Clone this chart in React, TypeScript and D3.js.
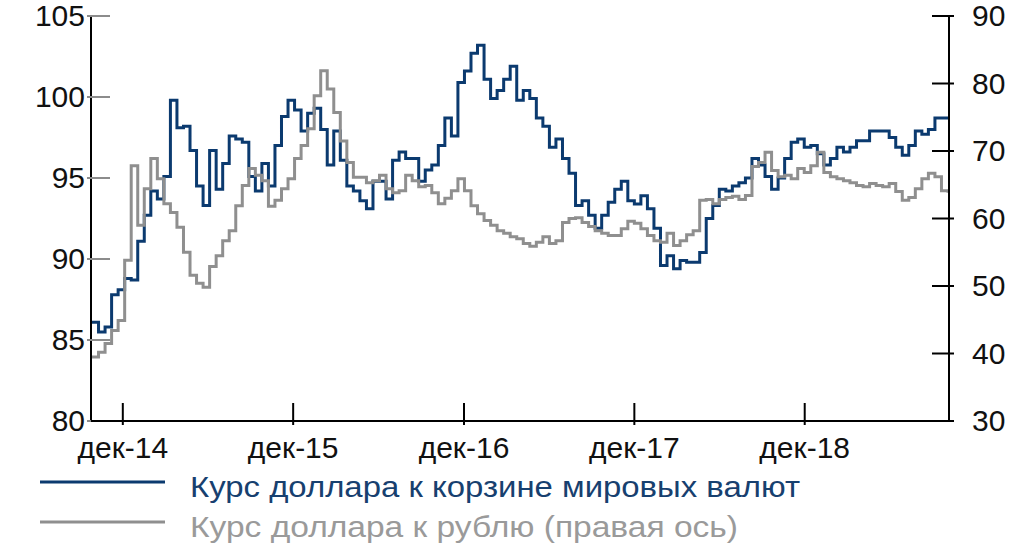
import * as d3 from "d3";

// Fortnightly observations, first one on 26 Sep 2014
const START = new Date(2014, 8, 26);
const STEP_DAYS = 14;

// Dollar index (left axis)
const dxy = [
  86.1, 85.5, 85.8, 87.8, 88.1, 88.8, 88.7, 91.1, 92.7, 94.2, 93.7, 95.1, 99.8, 98.1,
  98.2, 96.7, 94.5, 93.3, 96.7, 94.3, 95.9, 97.6, 97.4, 97.2, 95.1, 94.2, 95.9, 94.5,
  97.0, 98.8, 99.8, 99.2, 97.9, 99.0, 99.3, 98.0, 95.8, 97.9, 96.1, 94.5, 94.2, 93.6,
  93.1, 94.8, 94.8, 93.7, 96.1, 96.6, 96.2, 96.2, 94.8, 95.5, 95.8, 97.0, 98.7, 97.6,
  100.9, 101.6, 102.7, 103.2, 101.1, 99.9, 100.4, 101.1, 101.9, 99.8, 100.4, 99.9, 98.7, 98.2,
  96.9, 97.4, 96.2, 95.3, 93.3, 93.6, 92.7, 91.9, 92.7, 93.5, 94.3, 94.8, 93.6, 93.4,
  93.9, 93.1, 91.9, 89.6, 90.2, 89.4, 89.9, 89.8, 89.8, 90.4, 92.5, 93.3, 94.3, 94.2,
  94.5, 94.7, 95.0, 96.2, 95.8, 95.1, 94.3, 95.0, 96.2, 97.2, 97.4, 96.9, 97.0, 96.5,
  95.8, 96.2, 96.9, 96.6, 96.9, 97.3, 97.3, 97.9, 97.9, 97.9, 97.5, 96.9, 96.4, 97.0,
  97.9, 97.7, 98.0, 98.7, 98.7, 98.7,
];

// USD/RUB (right axis)
const usdRub = [
  39.5, 40.2, 41.5, 43.4, 44.9, 53.8, 67.8, 59.0, 64.4, 68.9, 65.9, 62.2, 60.9, 58.7,
  55.0, 51.6, 50.4, 49.8, 52.9, 54.5, 56.7, 58.2, 61.9, 64.9, 67.4, 66.4, 65.6, 61.8,
  62.7, 64.4, 65.9, 68.9, 70.8, 73.3, 78.2, 81.9, 79.2, 75.7, 71.5, 68.3, 66.1, 66.1,
  65.3, 65.6, 66.4, 64.4, 63.8, 64.1, 66.4, 65.6, 64.7, 64.9, 63.8, 62.2, 63.0, 64.1,
  65.9, 64.1, 61.9, 60.7, 59.7, 59.0, 58.2, 57.8, 57.3, 57.0, 56.3, 55.9, 56.5, 57.3,
  56.3, 56.7, 59.4, 60.0, 60.1, 59.4, 58.8, 58.2, 57.8, 57.5, 57.5, 58.5, 59.6, 59.3,
  58.5, 57.5, 56.7, 56.5, 57.8, 56.0, 56.7, 57.6, 58.2, 62.7, 62.8, 62.2, 62.8, 63.1,
  63.3, 62.8, 63.4, 67.7, 68.3, 69.8, 67.1, 66.2, 66.4, 65.9, 67.4, 66.8, 67.8, 69.8,
  66.8, 66.2, 65.9, 65.6, 65.3, 64.9, 64.7, 65.2, 64.9, 64.7, 65.2, 64.0, 62.7, 63.1,
  64.4, 65.9, 66.7, 66.2, 64.1, 63.8,
];

const leftTicks = [80, 85, 90, 95, 100, 105];
const rightTicks = [30, 40, 50, 60, 70, 80, 90];
const xTicks = [
  new Date(2014, 11, 1),
  new Date(2015, 11, 1),
  new Date(2016, 11, 1),
  new Date(2017, 11, 1),
  new Date(2018, 11, 1),
];

const legendItems = [
  { label: "Курс доллара к корзине мировых валют", color: "#0b3a6f", text: "#17406f", len: 610 },
  { label: "Курс доллара к рублю (правая ось)", color: "#8f8f8f", text: "#9a9a9a", len: 548 },
];

const BLUE = "#0b3a6f";
const GRAY = "#8f8f8f";
const FONT = "'Liberation Sans', Arial, sans-serif";

export default function App() {
  const width = 1024;
  const height = 546;
  const left = 91;
  const right = 949;
  const top = 16;
  const bottom = 421;

  const dates = dxy.map((_, i) => d3.timeDay.offset(START, i * STEP_DAYS));

  const x = d3
    .scaleTime()
    .domain([dates[0], dates[dates.length - 1]])
    .range([left + 1, right - 1]);
  const yL = d3.scaleLinear().domain([80, 105]).range([bottom, top]);
  const yR = d3.scaleLinear().domain([30, 90]).range([bottom, top]);

  const lineL = d3
    .line<number>()
    .x((_, i) => x(dates[i]))
    .y((d) => yL(d))
    .curve(d3.curveStepAfter);
  const lineR = d3
    .line<number>()
    .x((_, i) => x(dates[i]))
    .y((d) => yR(d))
    .curve(d3.curveStepAfter);

  const fmt = (d: Date) => "дек-" + d3.timeFormat("%y")(d);

  return (
    <svg
      width={width}
      height={height}
      style={{ position: "absolute", left: 0, top: 0, background: "#fff" }}
      fontFamily={FONT}
    >
      <rect width={width} height={height} fill="#fff" />

      {/* series */}
      <path d={lineL(dxy) || ""} fill="none" stroke={BLUE} strokeWidth={3} />
      <path d={lineR(usdRub) || ""} fill="none" stroke={GRAY} strokeWidth={3} />

      {/* left axis */}
      <line x1={left} x2={left} y1={top} y2={bottom} stroke="#000" strokeWidth={2} />
      {leftTicks.map((t) => (
        <g key={t}>
          <line x1={left - 4} x2={left + 19} y1={yL(t)} y2={yL(t)} stroke="#8c8c8c" strokeWidth={2} />
          <text x={85} y={yL(t) + 10} textAnchor="end" fontSize={30} fill="#111">
            {t}
          </text>
        </g>
      ))}

      {/* right axis */}
      <line x1={right} x2={right} y1={top - 1} y2={bottom} stroke="#000" strokeWidth={2} />
      {rightTicks.map((t) => (
        <g key={t}>
          <line x1={right - 17} x2={right + 5} y1={yR(t)} y2={yR(t)} stroke="#000" strokeWidth={2} />
          <text x={972} y={yR(t) + 10} textAnchor="start" fontSize={30} fill="#111">
            {t}
          </text>
        </g>
      ))}

      {/* x axis */}
      <line x1={left} x2={right} y1={bottom} y2={bottom} stroke="#000" strokeWidth={2} />
      {xTicks.map((d) => (
        <g key={d.getTime()}>
          <line x1={x(d)} x2={x(d)} y1={bottom - 18} y2={bottom + 4} stroke="#000" strokeWidth={2} />
          <text x={x(d)} y={458} textAnchor="middle" fontSize={30} fill="#111">
            {fmt(d)}
          </text>
        </g>
      ))}

      {/* legend */}
      {legendItems.map((item, i) => (
        <g key={item.label} transform={`translate(0, ${482 + i * 40})`}>
          <line x1={40} x2={165} y1={0} y2={0} stroke={item.color} strokeWidth={3} />
          <text
            x={190}
            y={15}
            fontSize={30}
            fill={item.text}
            textLength={item.len}
            lengthAdjust="spacingAndGlyphs"
          >
            {item.label}
          </text>
        </g>
      ))}
    </svg>
  );
}
